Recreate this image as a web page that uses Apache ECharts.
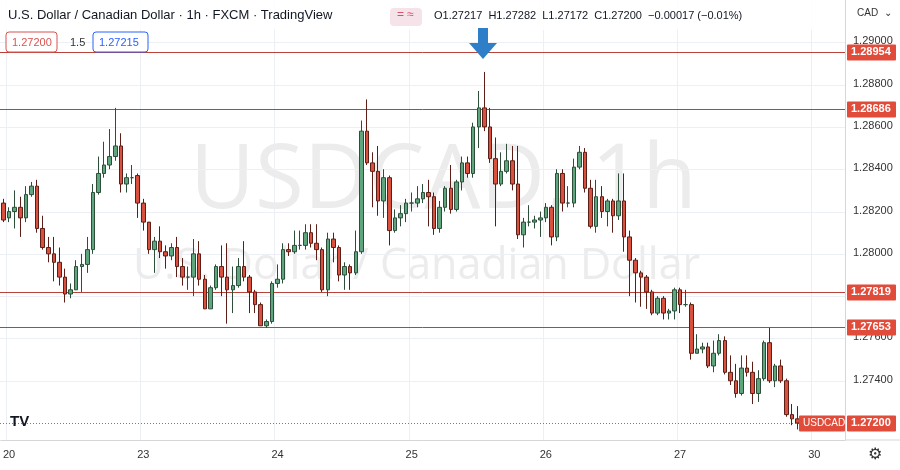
<!DOCTYPE html>
<html>
<head>
<meta charset="utf-8">
<script src="https://cdn.jsdelivr.net/npm/echarts@6/dist/echarts.min.js"></script>
<style>
  html, body { margin: 0; padding: 0; background: #fff; }
  #chart { width: 900px; height: 470px; }
</style>
</head>
<body>
<div id="chart"></div>
<script>
// hourly candles, [open, close, low, high]
const candles = [
  [1.2824,1.2816,1.2815,1.2826],[1.2817,1.2820,1.2815,1.2822],[1.2820,1.2822,1.2812,1.2830],[1.2822,1.2817,1.2808,1.2827],
  [1.2817,1.2828,1.2815,1.2832],[1.2828,1.2832,1.2827,1.2834],[1.2832,1.2812,1.2810,1.2835],[1.2812,1.2803,1.2802,1.2818],
  [1.2803,1.2800,1.2796,1.2808],[1.2800,1.2796,1.2787,1.2808],[1.2796,1.2789,1.2785,1.2803],[1.2789,1.2781,1.2777,1.2793],
  [1.2781,1.2783,1.2779,1.2786],[1.2783,1.2794,1.2783,1.2797],[1.2794,1.2795,1.2782,1.2800],[1.2795,1.2802,1.2791,1.2808],
  [1.2802,1.2829,1.2800,1.2833],[1.2829,1.2838,1.2828,1.2846],[1.2838,1.2842,1.2836,1.2853],[1.2842,1.2846,1.2840,1.2859],
  [1.2846,1.2851,1.2844,1.2869],[1.2851,1.2833,1.2829,1.2857],[1.2833,1.2836,1.2829,1.2838],[1.2836,1.2836,1.2833,1.2842],
  [1.2837,1.2824,1.2817,1.2838],[1.2824,1.2815,1.2811,1.2826],[1.2815,1.2802,1.2800,1.2815],[1.2802,1.2806,1.2791,1.2808],
  [1.2806,1.2801,1.2798,1.2813],[1.2801,1.2799,1.2793,1.2804],[1.2799,1.2803,1.2797,1.2805],[1.2803,1.2794,1.2789,1.2808],
  [1.2794,1.2789,1.2785,1.2798],[1.2789,1.2789,1.2783,1.2794],[1.2789,1.2800,1.2780,1.2807],[1.2800,1.2788,1.2785,1.2806],
  [1.2788,1.2774,1.2774,1.2790],[1.2774,1.2784,1.2774,1.2785],[1.2784,1.2794,1.2783,1.2795],[1.2794,1.2789,1.2780,1.2804],
  [1.2789,1.2783,1.2767,1.2805],[1.2783,1.2785,1.2772,1.2794],[1.2785,1.2794,1.2784,1.2798],[1.2794,1.2789,1.2787,1.2806],
  [1.2789,1.2782,1.2772,1.2790],[1.2782,1.2776,1.2772,1.2783],[1.2776,1.2766,1.2766,1.2777],[1.2766,1.2768,1.2765,1.2769],
  [1.2768,1.2786,1.2767,1.2787],[1.2786,1.2788,1.2784,1.2795],[1.2788,1.2802,1.2786,1.2805],[1.2802,1.2801,1.2799,1.2805],
  [1.2801,1.2804,1.2800,1.2811],[1.2804,1.2804,1.2802,1.2811],[1.2804,1.2810,1.2802,1.2814],[1.2810,1.2805,1.2803,1.2814],
  [1.2805,1.2802,1.2797,1.2814],[1.2802,1.2783,1.2782,1.2803],[1.2783,1.2807,1.2780,1.2810],[1.2807,1.2803,1.2796,1.2810],
  [1.2803,1.2790,1.2787,1.2804],[1.2790,1.2794,1.2783,1.2796],[1.2794,1.2791,1.2783,1.2795],[1.2791,1.2801,1.2790,1.2811],
  [1.2801,1.2858,1.2800,1.2863],[1.2858,1.2843,1.2842,1.2873],[1.2843,1.2839,1.2822,1.2848],[1.2839,1.2825,1.2818,1.2851],
  [1.2825,1.2836,1.2817,1.2840],[1.2836,1.2811,1.2804,1.2837],[1.2811,1.2817,1.2810,1.2821],[1.2817,1.2819,1.2813,1.2823],
  [1.2819,1.2824,1.2815,1.2826],[1.2824,1.2824,1.2820,1.2829],[1.2824,1.2826,1.2822,1.2832],[1.2826,1.2829,1.2824,1.2833],
  [1.2829,1.2827,1.2813,1.2835],[1.2827,1.2812,1.2809,1.2829],[1.2812,1.2822,1.2810,1.2825],[1.2822,1.2831,1.2820,1.2832],
  [1.2831,1.2821,1.2819,1.2842],[1.2821,1.2834,1.2820,1.2835],[1.2834,1.2843,1.2830,1.2846],[1.2843,1.2838,1.2836,1.2846],
  [1.2838,1.2860,1.2836,1.2862],[1.2860,1.2869,1.2850,1.2877],[1.2869,1.2860,1.2858,1.2886],[1.2860,1.2845,1.2843,1.2869],
  [1.2845,1.2833,1.2813,1.2855],[1.2833,1.2839,1.2832,1.2848],[1.2839,1.2844,1.2838,1.2852],[1.2844,1.2833,1.2830,1.2851],
  [1.2833,1.2809,1.2807,1.2851],[1.2809,1.2815,1.2803,1.2817],[1.2815,1.2815,1.2813,1.2823],[1.2815,1.2816,1.2812,1.2818],
  [1.2816,1.2817,1.2808,1.2820],[1.2817,1.2822,1.2815,1.2824],[1.2822,1.2808,1.2804,1.2823],[1.2808,1.2838,1.2806,1.2840],
  [1.2838,1.2824,1.2820,1.2840],[1.2824,1.2824,1.2822,1.2832],[1.2824,1.2841,1.2822,1.2845],[1.2841,1.2848,1.2840,1.2851],
  [1.2848,1.2831,1.2829,1.2850],[1.2831,1.2813,1.2812,1.2835],[1.2813,1.2827,1.2810,1.2835],[1.2827,1.2820,1.2817,1.2832],
  [1.2820,1.2825,1.2813,1.2826],[1.2825,1.2818,1.2810,1.2826],[1.2818,1.2825,1.2816,1.2838],[1.2825,1.2808,1.2801,1.2838],
  [1.2808,1.2797,1.2780,1.2811],[1.2797,1.2791,1.2777,1.2798],[1.2791,1.2789,1.2775,1.2792],[1.2789,1.2782,1.2774,1.2790],
  [1.2782,1.2772,1.2771,1.2783],[1.2772,1.2779,1.2771,1.2780],[1.2779,1.2772,1.2769,1.2780],[1.2772,1.2773,1.2769,1.2774],
  [1.2773,1.2783,1.2769,1.2784],[1.2783,1.2776,1.2772,1.2784],[1.2776,1.2776,1.2775,1.2783],[1.2776,1.2753,1.2750,1.2777],
  [1.2753,1.2755,1.2753,1.2762],[1.2755,1.2756,1.2753,1.2758],[1.2756,1.2747,1.2746,1.2758],[1.2747,1.2753,1.2744,1.2759],
  [1.2753,1.2759,1.2752,1.2762],[1.2759,1.2744,1.2743,1.2761],[1.2744,1.2740,1.2738,1.2752],[1.2740,1.2734,1.2732,1.2748],
  [1.2734,1.2746,1.2733,1.2752],[1.2746,1.2744,1.2742,1.2752],[1.2744,1.2734,1.2729,1.2749],[1.2734,1.2741,1.2730,1.2745],
  [1.2741,1.2758,1.2740,1.2759],[1.2758,1.2740,1.2739,1.2765],[1.2740,1.2747,1.2737,1.2748],[1.2747,1.2740,1.2739,1.2750],
  [1.2740,1.2724,1.2723,1.2741],[1.2724,1.2722,1.2719,1.2729],[1.2722,1.2720,1.2717,1.2728]
];
const slotCount = 151;
const dayLabels = { 1: '20', 25: '23', 49: '24', 73: '25', 97: '26', 121: '27', 145: '30' };
const gridPrices = [1.274, 1.276, 1.278, 1.280, 1.282, 1.284, 1.286, 1.288, 1.290];
const levels = [1.28954, 1.28686, 1.27819, 1.27653];
const lastPrice = 1.27200;

const categories = [];
for (let i = 0; i < slotCount; i++) categories.push(dayLabels[i] || '');

const chart = echarts.init(document.getElementById('chart'));
const font = 'Liberation Sans, Arial, sans-serif';
const plotRight = 845;

const decor = [
  { type: 'text', z: 0, left: 190, top: 138, style: { text: 'USDCAD, 1h', fontSize: 89, fontFamily: 'Open Sans, sans-serif', fill: '#ececec' } },
  { type: 'text', z: 0, left: 133, top: 245, style: { text: 'U.S. Dollar / Canadian Dollar', fontSize: 43, fontFamily: 'Open Sans, sans-serif', fill: '#ececec' } },
  { type: 'rect', z: 10, shape: { x: 0, y: 0, width: 844, height: 30 }, style: { fill: 'rgba(255,255,255,0.85)' } },
  { type: 'text', z: 11, left: 8, top: 9, style: { text: 'U.S. Dollar / Canadian Dollar · 1h · FXCM · TradingView', fontSize: 13, fontFamily: font, fill: '#131722' } },
  { type: 'rect', z: 11, shape: { x: 390, y: 8, width: 32, height: 18, r: 4 }, style: { fill: '#f6e3ea' } },
  { type: 'text', z: 12, left: 397, top: 9, style: { text: '= ≈', fontSize: 12, fontFamily: font, fill: '#d9506a' } },
  { type: 'text', z: 11, left: 434, top: 10, style: { text: 'O1.27217  H1.27282  L1.27172  C1.27200  −0.00017 (−0.01%)', fontSize: 11, fontFamily: font, fill: '#131722' } },
  { type: 'rect', z: 11, shape: { x: 6, y: 32, width: 51, height: 20, r: 3 }, style: { fill: '#fff', stroke: '#d9534f' } },
  { type: 'text', z: 12, left: 12, top: 37, style: { text: '1.27200', fontSize: 11, fontFamily: font, fill: '#d9534f' } },
  { type: 'text', z: 12, left: 70, top: 37, style: { text: '1.5', fontSize: 11, fontFamily: font, fill: '#333' } },
  { type: 'rect', z: 11, shape: { x: 93, y: 32, width: 55, height: 20, r: 3 }, style: { fill: '#fff', stroke: '#2962ff' } },
  { type: 'text', z: 12, left: 99, top: 37, style: { text: '1.27215', fontSize: 11, fontFamily: font, fill: '#2962ff' } },
  { type: 'polygon', z: 12, shape: { points: [[478, 28], [488, 28], [488, 43], [497, 43], [483, 59], [469, 43], [478, 43]] }, style: { fill: '#2f7fc8' } },
  { type: 'text', z: 11, left: 857, top: 8, style: { text: 'CAD  ⌄', fontSize: 10, fontFamily: font, fill: '#333' } },
  { type: 'text', z: 11, left: 10, top: 414, style: { text: 'TV', fontSize: 15, fontWeight: 'bold', fontFamily: font, fill: '#131722' } },
  { type: 'text', z: 11, left: 868, top: 447, style: { text: '⚙', fontSize: 16, fontFamily: 'DejaVu Sans', fill: '#333' } },
  { type: 'line', z: 11, shape: { x1: 845, y1: 440, x2: 900, y2: 440 }, style: { stroke: '#d6d6d6' } }
];

chart.setOption({
  animation: false,
  grid: { left: 0, right: 55, top: 0, bottom: 30 },
  xAxis: {
    type: 'category',
    data: categories,
    axisLine: { show: true, lineStyle: { color: '#d6d6d6' } },
    axisTick: { show: false },
    axisLabel: { interval: 0, color: '#333', fontSize: 11, fontFamily: font, margin: 9 },
    splitLine: { show: true, interval: i => !!dayLabels[i], lineStyle: { color: '#eceff4' } }
  },
  yAxis: {
    type: 'value',
    position: 'right',
    min: 1.2712,
    max: 1.2920,
    axisLine: { show: true, lineStyle: { color: '#d6d6d6' } },
    axisTick: { show: false },
    axisLabel: { show: false },
    splitLine: { show: false }
  },
  series: [{
    type: 'candlestick',
    data: candles,
    z: 5,
    barWidth: '72%',
    itemStyle: {
      color: '#5fa67e', color0: '#d8503e',
      borderColor: '#2d4f3a', borderColor0: '#5c1e16', borderWidth: 1
    }
  }]
});

// horizontal lines and price tags placed through the y scale
const yOf = v => chart.convertToPixel({ yAxisIndex: 0 }, v);
function priceTag(y, text, z) {
  return [
    { type: 'rect', z: z, shape: { x: 847, y: y - 8, width: 49, height: 16, r: 1 }, style: { fill: '#e04b3a' } },
    { type: 'text', z: z + 1, left: 851, top: y - 6, style: { text: text, fontSize: 11, fontWeight: 'bold', fontFamily: font, fill: '#fff' } }
  ];
}
const lines = [];
gridPrices.forEach(p => {
  const y = Math.round(yOf(p)) + 0.5;
  lines.push({ type: 'line', z: 1, shape: { x1: 0, y1: y, x2: plotRight, y2: y }, style: { stroke: '#eceff4', lineWidth: 1 } });
  lines.push({ type: 'text', z: 3, left: 853, top: y - 7, style: { text: p.toFixed(5), fontSize: 11, fontFamily: font, fill: '#333' } });
});
levels.forEach(p => {
  const y = Math.round(yOf(p)) + 0.5;
  lines.push({ type: 'line', z: 3, shape: { x1: 0, y1: y, x2: plotRight, y2: y }, style: { stroke: '#b8433a', lineWidth: 1 } });
  lines.push(...priceTag(y, p.toFixed(5), 13));
});
{
  const y = Math.round(yOf(lastPrice)) + 0.5;
  lines.push({ type: 'line', z: 3, shape: { x1: 0, y1: y, x2: plotRight, y2: y }, style: { stroke: '#d9534f', lineWidth: 1, lineDash: [1, 2] } });
  lines.push(...priceTag(y, lastPrice.toFixed(5), 13));
  lines.push({ type: 'rect', z: 13, shape: { x: 799, y: y - 8, width: 46, height: 16, r: 1 }, style: { fill: '#e04b3a' } });
  lines.push({ type: 'text', z: 14, left: 803, top: y - 5, style: { text: 'USDCAD', fontSize: 10, fontFamily: font, fill: '#fff' } });
}

chart.setOption({ graphic: decor.concat(lines) });
</script>
</body>
</html>
